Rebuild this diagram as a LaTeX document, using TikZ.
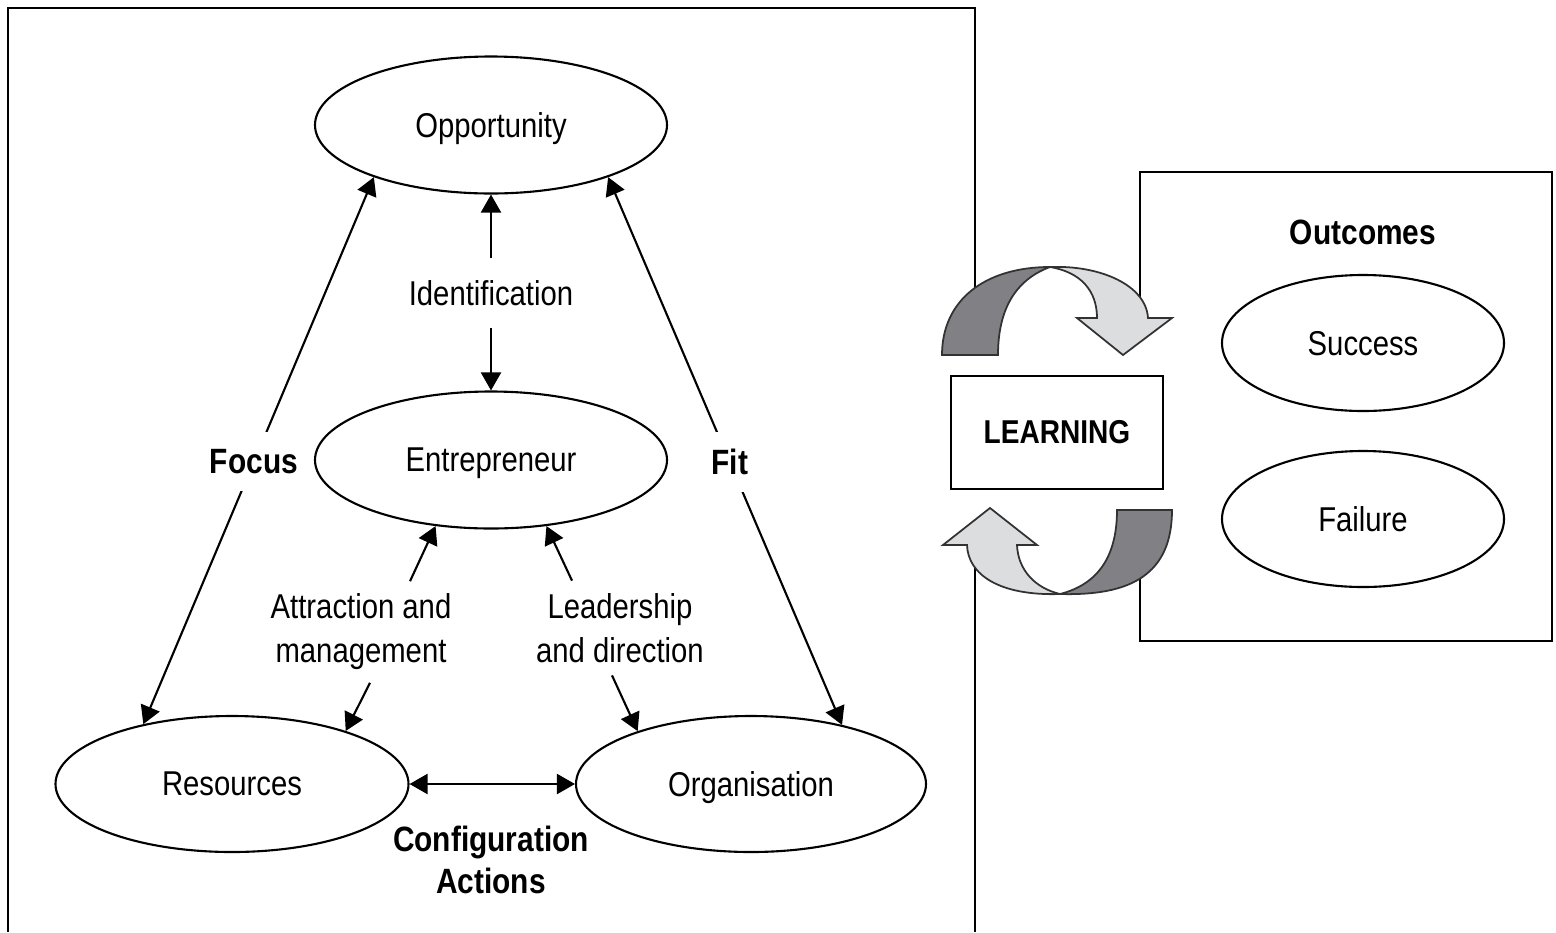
\documentclass[tikz,border=0pt]{standalone}
\usepackage{fontspec}
\setmainfont{Liberation Sans}[FakeStretch=0.85]
\usetikzlibrary{shapes,arrows.meta}

\definecolor{ribbondark}{RGB}{128,128,133}
\definecolor{ribbonlight}{RGB}{220,221,223}
\definecolor{ribbonedge}{RGB}{50,50,50}

\begin{document}
\begin{tikzpicture}[font=\fontsize{9.8}{12.5}\selectfont, line width=0.6pt,
  >={Triangle[length=1.8mm,width=2mm]},
  blob/.style={ellipse, draw=black, text depth=0pt, minimum width=3.52cm, minimum height=1.37cm},
  ribbon/.style={draw=ribbonedge, line width=0.5pt}]
\useasboundingbox (0,0) rectangle (15.56,-9.32);

% frames (the gaps sit under the ribbons)
\draw (0.08,-9.32) -- (0.08,-0.08) -- (9.75,-0.08) -- (9.75,-3.2);
\draw (9.75,-5.55) -- (9.75,-9.32);
\draw (11.40,-3.10) -- (11.40,-1.72) -- (15.52,-1.72) -- (15.52,-6.41) -- (11.40,-6.41) -- (11.40,-5.40);

% venture
\node[blob] (opp) at (4.91,-1.25) {Opportunity};
\node[blob] (ent) at (4.91,-4.60) {Entrepreneur};
\node[blob, minimum width=3.53cm, minimum height=1.36cm] (res) at (2.32,-7.84) {Resources};
\node[blob, minimum width=3.50cm, minimum height=1.36cm] (org) at (7.51,-7.84) {Organisation};

\node[inner sep=6pt] (ident) at (4.91,-2.93) {Identification};
\draw[->] (ident) -- (opp);
\draw[->] (ident) -- (ent);

\draw[<->] (opp.204) -- node[fill=white, inner xsep=1pt, inner ysep=5pt, pos=0.52, font=\bfseries] {Focus} (res.146);
\draw[<->] (opp.336) -- node[fill=white, inner xsep=1pt, inner ysep=5pt, pos=0.52, font=\bfseries] {Fit} (org.33);

\node[align=center] (attr) at (3.61,-6.32) {Attraction and\\management};
\draw[->] ([xshift=0.49cm]attr.north) -- (ent.230);
\draw[->] ([xshift=0.09cm]attr.south) -- (res.25);

\node[align=center] (lead) at (6.20,-6.28) {Leadership\\and direction};
\draw[->] ([xshift=-0.48cm]lead.north) -- (ent.310);
\draw[->] ([xshift=-0.08cm]lead.south) -- (org.155.6);

\draw[<->] (res.east) -- (org.west);
\node[align=center, font=\bfseries] (config) at (4.91,-8.60) {Configuration\\Actions};

% outcomes
\node[font=\bfseries] (outc) at (13.63,-2.32) {Outcomes};
\node[blob, minimum width=2.82cm, minimum height=1.36cm] (succ) at (13.63,-3.43) {Success};
\node[blob, minimum width=2.82cm, minimum height=1.36cm] (fail) at (13.63,-5.19) {Failure};

% learning loop
\node[draw=black, fill=white, minimum width=2.12cm, minimum height=1.13cm, font=\fontsize{9.4}{11}\bfseries] (learn) at (10.57,-4.325) {LEARNING};

\filldraw[ribbon, fill=ribbondark] (9.42,-3.55) .. controls (9.42,-3.00) and (9.85,-2.67) .. (10.50,-2.67)
  .. controls (10.15,-2.80) and (9.98,-3.10) .. (9.98,-3.55) -- cycle;
\filldraw[ribbon, fill=ribbonlight] (10.50,-2.67) .. controls (11.00,-2.65) and (11.46,-2.85) .. (11.48,-3.18)
  -- (11.72,-3.18) -- (11.23,-3.55) -- (10.77,-3.18) -- (10.97,-3.18)
  .. controls (10.97,-2.90) and (10.80,-2.72) .. (10.50,-2.67);

\filldraw[ribbon, fill=ribbondark] (11.72,-5.10) .. controls (11.72,-5.75) and (11.30,-5.96) .. (10.60,-5.94)
  .. controls (10.95,-5.85) and (11.17,-5.60) .. (11.17,-5.10) -- cycle;
\filldraw[ribbon, fill=ribbonlight] (10.60,-5.94) .. controls (10.00,-5.96) and (9.68,-5.75) .. (9.67,-5.45)
  -- (9.43,-5.45) -- (9.90,-5.08) -- (10.37,-5.45) -- (10.17,-5.45)
  .. controls (10.18,-5.70) and (10.35,-5.88) .. (10.60,-5.94);
\end{tikzpicture}
\end{document}
